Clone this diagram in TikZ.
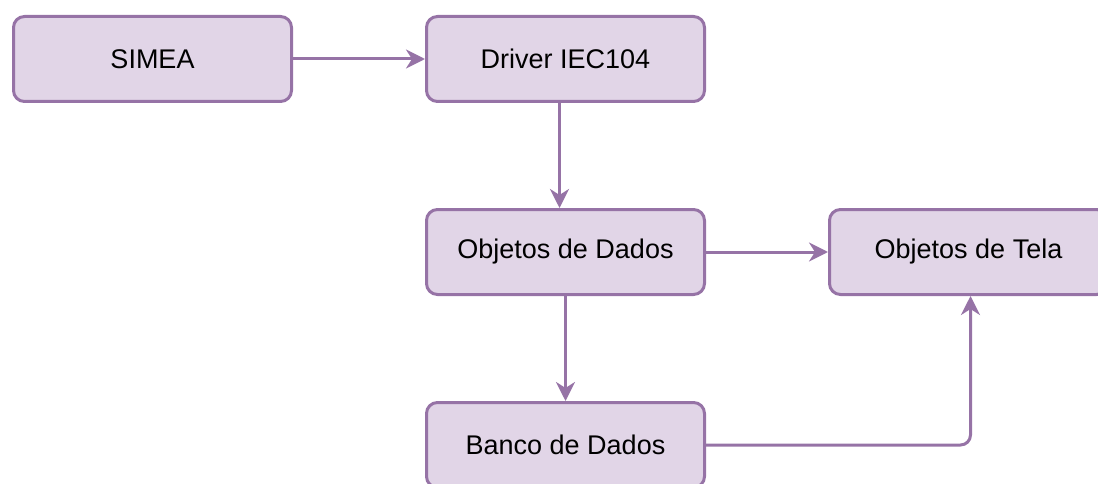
\documentclass[tikz,border=0pt]{standalone}
\usepackage{fontspec}
\setmainfont{Liberation Sans}
\usetikzlibrary{arrows.meta, positioning}
\definecolor{boxfill}{HTML}{E1D5E7}
\definecolor{boxline}{HTML}{9673A6}
\tikzset{
    base/.style={text centered, font=\fontsize{27}{32}\selectfont},
    block/.style={base, rectangle, rounded corners=11pt, minimum width=278pt, minimum height=85pt, draw=boxline, fill=boxfill, line width=3pt},
    arrow/.style={line width=3pt, -{Stealth[length=19pt, width=19pt, inset=6pt]}, color=boxline}
}
\begin{document}
\begin{tikzpicture}[x=1pt, y=-1pt]
        \clip (0,0) rectangle (1098,484);
        % Row 1
        \node (simea) [block] at (152.5,59) {SIMEA};
        \node (drv) [block, right=132pt of simea] {Driver IEC104};

        % Row 2
        \node (dados) [block, below=105pt of drv] {Objetos de Dados};
        \node (tela) [block, right=122pt of dados] {Objetos de Tela};

        % Row 3
        \node (banco) [block, below=105pt of dados] {Banco de Dados};

        \draw [arrow] (simea) -- (drv);
        \draw [arrow] ([xshift=-6pt]drv.south) -- ([xshift=-6pt]dados.north);
        \draw [arrow] (dados) -- (tela);
        \draw [arrow] (dados) -- (banco);
        \draw [arrow, rounded corners=10pt] (banco) -| ([xshift=2pt]tela.south);
\end{tikzpicture}
\end{document}
